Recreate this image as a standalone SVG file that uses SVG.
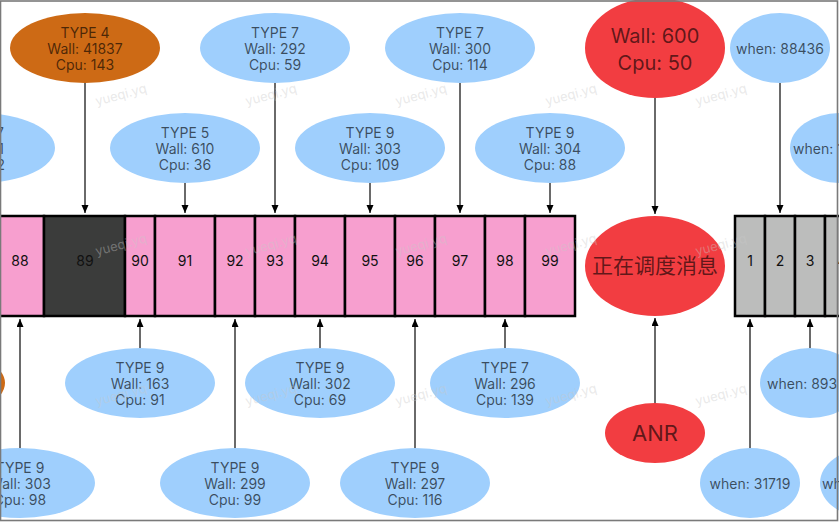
<svg xmlns="http://www.w3.org/2000/svg" width="839" height="522" viewBox="0 0 839 522">
<defs>
<marker id="ah" markerUnits="userSpaceOnUse" markerWidth="8" markerHeight="8" refX="8" refY="3.5" orient="auto">
<path d="M0,0 L8,3.5 L0,7 z" fill="#000"/>
</marker>
<style>
text{font-family:Inter,"Noto Sans","Liberation Sans",sans-serif;}
.blue{fill:#9fcffd;}
.orange{fill:#cd6a15;}
.red{fill:#f23d41;}
.t{font-size:14px;text-anchor:middle;fill:#000;fill-opacity:0.64;}
.big{font-size:20px;text-anchor:middle;fill:#000;fill-opacity:0.62;}
.cell{stroke:#000;stroke-width:2.5;}
.pink{fill:#f79fcf;}
.dark{fill:#3b3c3b;}
.gray{fill:#bcbdbc;}
.num{font-size:14px;text-anchor:middle;fill:#111;}
.edge{stroke:#6a6a6a;stroke-width:2;fill:none;marker-end:url(#ah);}
.wm{font-size:13px;fill:#c8c8c8;fill-opacity:0.4;text-anchor:middle;}
</style>
</defs>
<rect x="0" y="0" width="839" height="522" fill="#fff"/>

<g id="bar">
<rect class="cell pink" x="-6" y="216" width="50" height="100"/>
<rect class="cell dark" x="44" y="216" width="81" height="100"/>
<rect class="cell pink" x="125" y="216" width="30" height="100"/>
<rect class="cell pink" x="155" y="216" width="60" height="100"/>
<rect class="cell pink" x="215" y="216" width="40" height="100"/>
<rect class="cell pink" x="255" y="216" width="40" height="100"/>
<rect class="cell pink" x="295" y="216" width="50" height="100"/>
<rect class="cell pink" x="345" y="216" width="50" height="100"/>
<rect class="cell pink" x="395" y="216" width="40" height="100"/>
<rect class="cell pink" x="435" y="216" width="50" height="100"/>
<rect class="cell pink" x="485" y="216" width="40" height="100"/>
<rect class="cell pink" x="525" y="216" width="50" height="100"/>
<text class="num" x="20" y="266">88</text>
<text class="num" x="85" y="266">89</text>
<text class="num" x="140" y="266">90</text>
<text class="num" x="185" y="266">91</text>
<text class="num" x="235" y="266">92</text>
<text class="num" x="275" y="266">93</text>
<text class="num" x="320" y="266">94</text>
<text class="num" x="370" y="266">95</text>
<text class="num" x="415" y="266">96</text>
<text class="num" x="460" y="266">97</text>
<text class="num" x="505" y="266">98</text>
<text class="num" x="550" y="266">99</text>
</g>

<g id="bar2">
<rect class="cell gray" x="735" y="216" width="30" height="100"/>
<rect class="cell gray" x="765" y="216" width="30" height="100"/>
<rect class="cell gray" x="795" y="216" width="30" height="100"/>
<rect class="cell gray" x="825" y="216" width="40" height="100"/>
<text class="num" x="750" y="266">1</text>
<text class="num" x="780" y="266">2</text>
<text class="num" x="810" y="266">3</text>
<text class="num" x="842" y="266">4</text>
</g>

<g id="connectors">
<line class="edge" x1="85" y1="83" x2="85" y2="213"/>
<line class="edge" x1="185" y1="183" x2="185" y2="213"/>
<line class="edge" x1="275" y1="83" x2="275" y2="213"/>
<line class="edge" x1="370" y1="183" x2="370" y2="213"/>
<line class="edge" x1="460" y1="83" x2="460" y2="213"/>
<line class="edge" x1="550" y1="183" x2="550" y2="213"/>
<line class="edge" x1="655" y1="98" x2="655" y2="214"/>
<line class="edge" x1="780" y1="83" x2="780" y2="213"/>
<line class="edge" x1="20" y1="448" x2="20" y2="319"/>
<line class="edge" x1="140" y1="348" x2="140" y2="319"/>
<line class="edge" x1="235" y1="448" x2="235" y2="319"/>
<line class="edge" x1="320" y1="348" x2="320" y2="319"/>
<line class="edge" x1="415" y1="448" x2="415" y2="319"/>
<line class="edge" x1="505" y1="348" x2="505" y2="319"/>
<line class="edge" x1="655" y1="403" x2="655" y2="318"/>
<line class="edge" x1="750" y1="448" x2="750" y2="319"/>
<line class="edge" x1="810" y1="348" x2="810" y2="319"/>
</g>

<g id="n-type4">
<ellipse class="orange" cx="85" cy="48" rx="75" ry="35"/>
<text class="t" x="85" y="38">TYPE 4</text>
<text class="t" x="85" y="54">Wall: 41837</text>
<text class="t" x="85" y="70">Cpu: 143</text>
</g>
<g id="n-t7-292">
<ellipse class="blue" cx="275" cy="48" rx="75" ry="35"/>
<text class="t" x="275" y="38">TYPE 7</text>
<text class="t" x="275" y="54">Wall: 292</text>
<text class="t" x="275" y="70">Cpu: 59</text>
</g>
<g id="n-t7-300">
<ellipse class="blue" cx="460" cy="48" rx="75" ry="35"/>
<text class="t" x="460" y="38">TYPE 7</text>
<text class="t" x="460" y="54">Wall: 300</text>
<text class="t" x="460" y="70">Cpu: 114</text>
</g>
<g id="n-wall600">
<ellipse class="red" cx="655" cy="48" rx="70" ry="50"/>
<text class="big" x="655" y="43">Wall: 600</text>
<text class="big" x="655" y="70">Cpu: 50</text>
</g>
<g id="n-when88436">
<ellipse class="blue" cx="780" cy="48" rx="50" ry="35"/>
<text class="t" x="780" y="54">when: 88436</text>
</g>

<g id="n-left-partial">
<ellipse class="blue" cx="-20" cy="148" rx="75" ry="35"/>
<text class="t" x="4" y="138" style="text-anchor:end">7</text>
<text class="t" x="4" y="154" style="text-anchor:end">1</text>
<text class="t" x="5" y="170" style="text-anchor:end">2</text>
</g>
<g id="n-t5-610">
<ellipse class="blue" cx="185" cy="148" rx="75" ry="35"/>
<text class="t" x="185" y="138">TYPE 5</text>
<text class="t" x="185" y="154">Wall: 610</text>
<text class="t" x="185" y="170">Cpu: 36</text>
</g>
<g id="n-t9-303">
<ellipse class="blue" cx="370" cy="148" rx="75" ry="35"/>
<text class="t" x="370" y="138">TYPE 9</text>
<text class="t" x="370" y="154">Wall: 303</text>
<text class="t" x="370" y="170">Cpu: 109</text>
</g>
<g id="n-t9-304">
<ellipse class="blue" cx="550" cy="148" rx="75" ry="35"/>
<text class="t" x="550" y="138">TYPE 9</text>
<text class="t" x="550" y="154">Wall: 304</text>
<text class="t" x="550" y="170">Cpu: 88</text>
</g>
<g id="n-when-right">
<ellipse class="blue" cx="840" cy="148" rx="50" ry="35"/>
<text class="t" x="793" y="154" style="text-anchor:start">when: 1</text>
</g>

<g id="n-dispatch">
<ellipse class="red" cx="655" cy="266" rx="70" ry="50"/>
<text x="655" y="273" style="font-family:'Noto Sans CJK SC',sans-serif;font-size:21px;text-anchor:middle;fill:#000;fill-opacity:0.62">正在调度消息</text>
</g>

<g id="n-orange-partial">
<ellipse class="orange" cx="-70" cy="383" rx="75" ry="35"/>
</g>
<g id="n-t9-163">
<ellipse class="blue" cx="140" cy="383" rx="75" ry="35"/>
<text class="t" x="140" y="373">TYPE 9</text>
<text class="t" x="140" y="389">Wall: 163</text>
<text class="t" x="140" y="405">Cpu: 91</text>
</g>
<g id="n-t9-302">
<ellipse class="blue" cx="320" cy="383" rx="75" ry="35"/>
<text class="t" x="320" y="373">TYPE 9</text>
<text class="t" x="320" y="389">Wall: 302</text>
<text class="t" x="320" y="405">Cpu: 69</text>
</g>
<g id="n-t7-296">
<ellipse class="blue" cx="505" cy="383" rx="75" ry="35"/>
<text class="t" x="505" y="373">TYPE 7</text>
<text class="t" x="505" y="389">Wall: 296</text>
<text class="t" x="505" y="405">Cpu: 139</text>
</g>
<g id="n-anr">
<ellipse class="red" cx="655" cy="433" rx="50" ry="30"/>
<text x="655" y="441" style="font-size:22px;text-anchor:middle;fill:#000;fill-opacity:0.62">ANR</text>
</g>
<g id="n-when893">
<ellipse class="blue" cx="810" cy="383" rx="50" ry="35"/>
<text class="t" x="767" y="389" style="text-anchor:start">when: 893</text>
</g>

<g id="n-t9-303b">
<ellipse class="blue" cx="20" cy="483" rx="75" ry="35"/>
<text class="t" x="20" y="473">TYPE 9</text>
<text class="t" x="20" y="489">Wall: 303</text>
<text class="t" x="20" y="505">Cpu: 98</text>
</g>
<g id="n-t9-299">
<ellipse class="blue" cx="235" cy="483" rx="75" ry="35"/>
<text class="t" x="235" y="473">TYPE 9</text>
<text class="t" x="235" y="489">Wall: 299</text>
<text class="t" x="235" y="505">Cpu: 99</text>
</g>
<g id="n-t9-297">
<ellipse class="blue" cx="415" cy="483" rx="75" ry="35"/>
<text class="t" x="415" y="473">TYPE 9</text>
<text class="t" x="415" y="489">Wall: 297</text>
<text class="t" x="415" y="505">Cpu: 116</text>
</g>
<g id="n-when31719">
<ellipse class="blue" cx="750" cy="483" rx="50" ry="35"/>
<text class="t" x="750" y="489">when: 31719</text>
</g>
<g id="n-when-right2">
<ellipse class="blue" cx="870" cy="483" rx="50" ry="35"/>
<text class="t" x="822" y="489" style="text-anchor:start">wh</text>
</g>

<g id="watermark">
<text class="wm" transform="translate(122,99) rotate(-15)">yueqi.yq</text>
<text class="wm" transform="translate(272,99) rotate(-15)">yueqi.yq</text>
<text class="wm" transform="translate(422,99) rotate(-15)">yueqi.yq</text>
<text class="wm" transform="translate(572,99) rotate(-15)">yueqi.yq</text>
<text class="wm" transform="translate(722,99) rotate(-15)">yueqi.yq</text>
<text class="wm" transform="translate(122,249) rotate(-15)">yueqi.yq</text>
<text class="wm" transform="translate(272,249) rotate(-15)">yueqi.yq</text>
<text class="wm" transform="translate(422,249) rotate(-15)">yueqi.yq</text>
<text class="wm" transform="translate(572,249) rotate(-15)">yueqi.yq</text>
<text class="wm" transform="translate(722,249) rotate(-15)">yueqi.yq</text>
<text class="wm" transform="translate(122,399) rotate(-15)">yueqi.yq</text>
<text class="wm" transform="translate(272,399) rotate(-15)">yueqi.yq</text>
<text class="wm" transform="translate(422,399) rotate(-15)">yueqi.yq</text>
<text class="wm" transform="translate(572,399) rotate(-15)">yueqi.yq</text>
<text class="wm" transform="translate(722,399) rotate(-15)">yueqi.yq</text>
</g>

<rect x="0.5" y="1" width="837" height="519.5" fill="none" stroke="#7a7a7a" stroke-width="1.6"/>
</svg>
